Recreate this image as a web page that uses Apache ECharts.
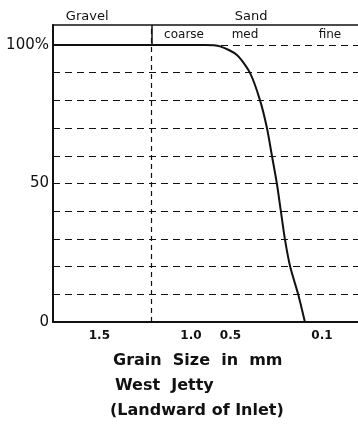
<!DOCTYPE html>
<html>
<head>
<meta charset="utf-8">
<script src="https://cdn.jsdelivr.net/npm/echarts@6/dist/echarts.min.js"></script>
<style>
html,body{margin:0;padding:0;background:#fff;}
#chart{width:358px;height:430px;}
</style>
</head>
<body>
<div id="chart"></div>
<script>
// Grain size distribution (percent finer vs grain size in mm)
const grainSizeMm = [11.3, 1.0, 0.78, 0.60, 0.446, 0.355, 0.297, 0.263, 0.241, 0.221, 0.206, 0.192, 0.175, 0.152, 0.135];
const percentFiner = [100, 100, 100, 99.5, 96.4, 90, 80, 70, 60, 50, 40, 30, 20, 10, 0];

const xTickValues = [5, 1, 0.5, 0.1];
const xTickLabels = ['1.5', '1.0', '0.5', '0.1'];
const yTickValues = [0, 50, 100];
const yTickLabels = ['0', '50', '100%'];

const classValues = [6.2, 0.348];
const classLabels = ['Gravel', 'Sand'];
const subClassValues = [1.13, 0.387, 0.0869];
const subClassLabels = ['coarse', 'med', 'fine'];

const gravelSandBoundary = 2;
const xMin = 0.0531, xMax = 11.3;
const yMax = 107.2;

const titleLines = ['Grain  Size  in  mm', 'West  Jetty', '(Landward of Inlet)'];

const font = 'DejaVu Sans';
const ink = '#111';

function lookup(vals, labels) {
  return function (v) {
    for (let i = 0; i < vals.length; i++) {
      if (Math.abs(vals[i] - v) < 1e-9 * Math.max(1, Math.abs(v))) return labels[i];
    }
    return '';
  };
}

const chart = echarts.init(document.getElementById('chart'), null, {renderer: 'canvas'});

const baseX = {
  type: 'log', inverse: true, min: xMin, max: xMax, gridIndex: 0,
  splitLine: {show: false}, axisTick: {show: false}
};

chart.setOption({
  animation: false,
  backgroundColor: '#fff',
  title: [
    {text: titleLines[0], left: 113, top: 353, textStyle: {fontFamily: font, fontWeight: 'bold', fontSize: 16, color: ink}, padding: 0},
    {text: titleLines[1], left: 115, top: 378, textStyle: {fontFamily: font, fontWeight: 'bold', fontSize: 16, color: ink}, padding: 0},
    {text: titleLines[2], left: 110, top: 403, textStyle: {fontFamily: font, fontWeight: 'bold', fontSize: 16, color: ink}, padding: 0}
  ],
  grid: {left: 53, right: 0, top: 25, bottom: 108, containLabel: false, outerBoundsMode: 'none'},
  xAxis: [
    Object.assign({}, baseX, {
      position: 'bottom',
      axisLine: {show: true, lineStyle: {color: ink, width: 2}},
      axisLabel: {
        customValues: xTickValues, formatter: lookup(xTickValues, xTickLabels),
        margin: 8, fontFamily: font, fontWeight: 'bold', fontSize: 12, color: ink
      }
    }),
    Object.assign({}, baseX, {
      position: 'top',
      axisLine: {show: true, lineStyle: {color: ink, width: 1.5}},
      axisLabel: {
        customValues: classValues, formatter: lookup(classValues, classLabels),
        margin: 2, fontFamily: font, fontSize: 13, color: ink
      }
    }),
    Object.assign({}, baseX, {
      position: 'top',
      axisLine: {show: false},
      axisLabel: {
        inside: true,
        customValues: subClassValues, formatter: lookup(subClassValues, subClassLabels),
        margin: 4, fontFamily: font, fontSize: 12, color: ink
      }
    })
  ],
  yAxis: {
    type: 'value', min: 0, max: yMax, interval: 10,
    axisLine: {show: true, lineStyle: {color: ink, width: 2}},
    axisTick: {show: false},
    axisLabel: {
      customValues: yTickValues, formatter: lookup(yTickValues, yTickLabels),
      margin: 4, fontFamily: font, fontSize: 15, color: ink
    },
    splitLine: {show: true, showMaxLine: false, lineStyle: {color: ink, width: 1, type: [7, 5]}}
  },
  series: [{
    type: 'line',
    xAxisIndex: 0,
    data: grainSizeMm.map((d, i) => [d, percentFiner[i]]),
    showSymbol: false,
    smooth: 0.25,
    lineStyle: {color: ink, width: 2},
    markLine: {
      silent: true, symbol: 'none', animation: false,
      label: {show: false},
      data: [
        {xAxis: gravelSandBoundary, lineStyle: {color: ink, width: 1.2, type: [5, 4]}},
        [{coord: [gravelSandBoundary, 100]}, {coord: [gravelSandBoundary, yMax], lineStyle: {color: ink, width: 1.5, type: 'solid'}}]
      ]
    }
  }]
});
</script>
</body>
</html>
